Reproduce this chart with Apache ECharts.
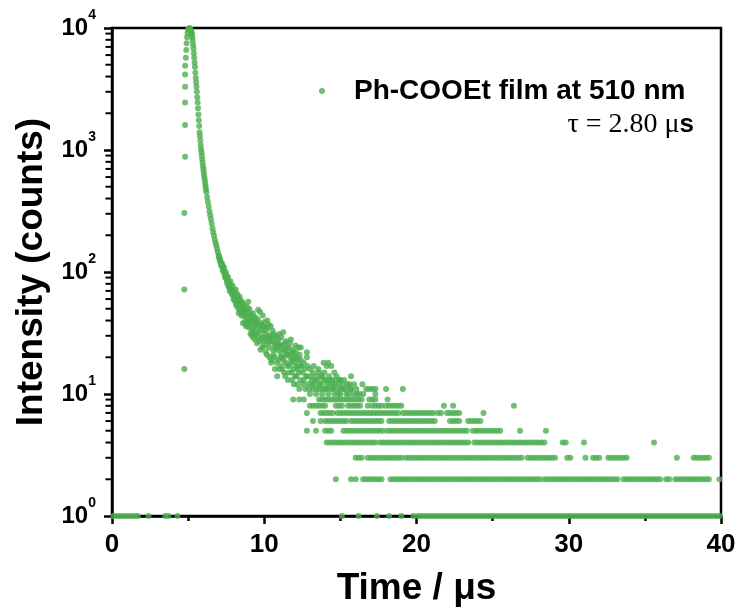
<!DOCTYPE html>
<html>
<head>
<meta charset="utf-8">
<script src="https://cdn.jsdelivr.net/npm/echarts@6/dist/echarts.min.js"></script>
<style>html,body{margin:0;padding:0;background:#fff}#c{width:739px;height:612px}</style>
</head>
<body>
<div id="c"></div>
<script>
// ---------- data ----------
const seriesName = 'Ph-COOEt film at 510 nm';
const xTicks = [0, 10, 20, 30, 40];
const yTicks = [1, 10, 100, 1000, 10000];
const yMinorTicks = [2,3,4,5,6,7,8,9,20,30,40,50,60,70,80,90,200,300,400,500,600,700,800,900,2000,3000,4000,5000,6000,7000,8000,9000];

// rising edge of the pulse
const riseT = [4.75,4.75,4.75,4.8,4.8,4.8,4.8,4.8,4.8,4.85,4.88,4.9,4.93,4.96];
const riseN = [16,72,305,880,1600,2450,3300,4150,4900,5700,6600,7500,8400,9100];

// peak and decay (time in µs, counts)
const decayT = [5.00,5.05,5.10,5.15,
  5.200,5.225,5.250,5.275,5.300,5.325,5.350,5.375,5.400,5.425,5.450,5.475,5.500,5.525,5.550,5.575,
  5.600,5.625,5.650,5.675,5.700,5.725,5.750,5.775,5.800,5.825,5.850,5.875,5.900,5.925,5.950,5.975,
  6.000,6.025,6.050,6.075,6.100,6.125,6.150,6.175,6.200,
  6.25,6.30,6.35,6.40,6.45,6.50,6.55,6.60,6.65,6.70,6.75,6.80,6.85,6.90,6.95,7.00,
  7.05,7.10,7.15,7.20,7.25,7.30,7.35,7.40,7.45,7.50,7.55,7.60,7.65,7.70,7.75,7.80,7.85,7.90,7.95,8.00,
  8.05,8.10,8.15,8.20,8.25,8.30,8.35,8.40,8.45,8.50,8.55,8.60,8.65,8.70,8.75,8.80,8.85,8.90,8.95,9.00,
  9.05,9.10,9.15,9.20,9.25,9.30,9.35,9.40,9.45,9.50,9.55,9.60,9.65,9.70,9.75,9.80,9.85,9.90,9.95,10.00,
  10.05,10.10,10.15,10.20,10.25,10.30,10.35,10.40,10.45,10.50,10.55,10.60,10.65,10.70,10.75,10.80,10.85,10.90,10.95,11.00,
  11.05,11.10,11.15,11.20,11.25,11.30,11.35,11.40,11.45,11.50,11.55,11.60,11.65,11.70,11.75,11.80,11.85,11.90,11.95,12.00,
  12.05,12.10,12.15,12.20,12.25,12.30,12.35,12.40];
const decayN = [9700,9900,10000,9800,
  9400,9200,8900,8400,7900,7300,6800,6200,5700,5200,4800,4300,3900,3600,3300,3000,
  2700,2450,2200,1950,1750,1570,1400,1300,1200,1100,1020,960,900,840,790,740,
  700,660,620,590,560,530,500,475,450,
  410,375,345,315,292,270,250,228,212,198,185,174,165,155,146,138,
  130,128,118,115,112,102,108,96,92,95,84,88,76,82,73,78,68,72,64,70,
  58,66,55,62,57,50,60,48,55,44,52,38,50,43,47,36,52,41,57,35,
  44,31,40,30,46,34,38,28,42,32,36,49,27,33,23,38,29,44,25,31,
  35,22,28,40,26,37,20,30,18,27,33,21,25,16,29,23,14,26,19,31,
  22,17,25,20,32,15,23,18,27,21,13,24,17,20,28,15,19,22,12,18,
  25,14,20,16,24,11,17,19];

// second, interleaved set of channels in the noisy part of the decay
const decay2T = [7.025,7.075,7.125,7.175,7.225,7.275,7.325,7.375,7.425,7.475,7.525,7.575,7.625,7.675,7.725,7.775,7.825,7.875,7.925,7.975,
  8.025,8.075,8.125,8.175,8.225,8.275,8.325,8.375,8.425,8.475,8.525,8.575,8.625,8.675,8.725,8.775,8.825,8.875,8.925,8.975,
  9.025,9.075,9.125,9.175,9.225,9.275,9.325,9.375,9.425,9.475,9.525,9.575,9.625,9.675,9.725,9.775,9.825,9.875,9.925,9.975,
  10.025,10.075,10.125,10.175,10.225,10.275,10.325,10.375,10.425,10.475,10.525,10.575,10.625,10.675,10.725,10.775,10.825,10.875,10.925,10.975,
  11.025,11.075,11.125,11.175,11.225,11.275,11.325,11.375,11.425,11.475,11.525,11.575,11.625,11.675,11.725,11.775,11.825,11.875,11.925,11.975,
  12.025,12.075,12.125,12.175,12.225,12.275,12.325,12.375];
const decay2N = [134,125,121,112,118,104,110,99,90,100,88,80,91,79,70,84,74,66,77,60,
  68,61,72,53,66,59,46,63,52,58,47,56,45,54,39,49,44,37,48,40,
  50,37,45,33,41,29,43,36,31,39,26,41,30,37,47,28,34,24,36,27,
  39,29,33,21,35,24,30,27,36,19,29,23,31,20,26,30,18,24,28,16,
  25,20,29,16,23,19,26,14,21,24,17,22,15,26,18,21,13,23,16,20,
  14,22,17,12,19,15,21,13];

// noisy cloud of higher counts after 12 µs
const cloudT = [12.4,12.5,12.6,12.6,12.7,12.8,12.8,12.8,12.9,13.0,13.0,13.1,13.2,13.2,13.3,13.4,13.4,13.5,13.6,13.6,
  13.7,13.8,13.8,13.9,13.9,14.0,14.1,14.1,14.2,14.2,14.3,14.4,14.4,14.5,14.6,14.6,14.7,14.8,14.9,15.0,
  15.0,15.2,15.4,15.6,15.7,15.7,15.9,16.1,16.5,16.7,16.9,17.1,17.3,17.3,18.0,19.1,
  12.45,12.55,12.65,12.75,12.85,12.95,13.05,13.15,13.25,13.35,13.45,13.55,13.65,13.75,13.85,13.95,14.05,14.15,14.25,14.35,
  14.45,14.55,14.65,14.75,14.85,14.95,15.05,15.15,15.25,15.35,15.45,15.55,15.65,15.85,16.05,16.25,16.45];
const cloudN = [24,15,13,18,11,20,14,22,12,16,10,13,15,11,12,14,10,13,15,11,
  12,10,14,13,18,11,12,17,18,10,13,17,11,12,15,10,13,11,12,10,
  13,11,10,12,11,14,12,10,10,11,11,11,11,10,11,11,
  17,12,16,14,17,11,14,12,17,13,11,16,12,14,11,15,13,11,14,12,
  13,11,12,14,10,13,11,12,13,11,12,10,11,10,11,10,12];

// integer count levels at long times: times at which each level is recorded
const levelCounts = [1, 2, 3, 4, 5, 6, 7, 8, 9];
const lvl1T = [0.1,0.3,0.5,0.7,0.9,1.1,1.3,1.5,1.7,2.4,3.5,3.7,4.3,15.1,16.2,17.4,18.2,19.0,19.8,
  20.1,20.3,20.5,20.7,20.9,21.1,21.3,21.5,21.7,21.9,22.1,22.3,22.5,22.7,22.9,23.1,23.3,23.5,23.7,23.9,
  24.1,24.3,24.5,24.7,24.9,25.1,25.3,25.5,25.7,25.9,26.1,26.3,26.5,26.7,26.9,27.1,27.3,27.5,27.7,27.9,
  28.1,28.3,28.5,28.7,28.9,29.1,29.3,29.5,29.7,29.9,30.1,30.3,30.5,30.7,30.9,31.1,31.3,31.5,31.7,31.9,
  32.1,32.3,32.5,32.7,32.9,33.1,33.3,33.5,33.7,33.9,34.1,34.3,34.5,34.7,34.9,35.1,35.3,35.5,35.7,35.9,
  36.1,36.3,36.5,36.7,36.9,37.1,37.3,37.5,37.7,37.9,38.1,38.3,38.5,38.7,38.9,39.1,39.3,39.5,39.7,39.9];
const lvl2T = [14.7,15.7,16.0,16.5,16.7,16.9,17.1,17.3,17.5,17.7,18.3,18.5,18.7,18.9,19.1,19.3,19.5,19.7,19.9,
  20.1,20.3,20.5,20.7,20.9,21.1,21.3,21.5,21.7,21.9,22.1,22.3,22.5,22.7,22.9,23.1,23.3,23.5,23.7,23.9,
  24.1,24.3,24.5,24.7,24.9,25.1,25.3,25.5,25.7,25.9,26.1,26.3,26.5,26.7,26.9,27.1,27.3,27.5,27.7,27.9,28.1,
  28.4,28.6,28.8,29.0,29.2,29.4,29.6,29.8,30.0,30.2,30.4,30.6,30.8,31.0,31.2,31.4,31.6,31.8,32.0,32.2,32.4,
  32.6,32.8,33.0,33.2,33.6,33.8,34.0,34.2,34.4,34.6,34.8,35.0,35.2,35.4,35.6,35.8,36.0,36.4,36.6,
  37.0,37.2,37.4,37.6,37.8,38.0,38.2,38.4,38.6,38.8,39.0,39.2,39.9];
const lvl3T = [16.0,16.2,16.4,16.8,17.0,17.2,17.4,17.6,17.8,18.0,18.2,18.4,18.6,18.8,19.0,19.3,19.5,19.7,19.9,
  20.1,20.3,20.5,20.7,20.9,21.1,21.3,21.5,21.7,21.9,22.1,22.3,22.5,22.7,22.9,23.1,23.3,23.5,23.7,23.9,
  24.1,24.3,24.5,24.7,24.9,25.1,25.3,25.5,25.7,25.9,26.1,26.3,26.5,26.7,26.9,27.3,27.5,27.7,27.9,28.1,
  28.3,28.5,28.7,28.9,29.1,29.9,30.1,31.1,31.6,31.8,32.0,32.6,32.8,33.0,33.2,33.4,33.6,33.8,37.1,
  38.2,38.4,38.6,38.8,39.0,39.2];
const lvl4T = [14.1,14.3,14.5,14.7,14.9,15.1,15.3,15.5,15.7,15.9,16.1,16.3,16.5,16.7,16.9,17.1,17.3,17.6,17.8,
  18.0,18.2,18.4,18.6,18.8,19.0,19.2,19.4,19.6,19.8,20.0,20.2,20.4,20.6,20.8,21.0,21.2,21.4,21.6,21.8,
  22.0,22.2,22.4,22.6,22.8,23.0,23.2,23.4,23.8,24.0,24.2,24.4,24.6,24.8,25.0,25.2,25.4,25.6,25.8,26.0,
  26.2,26.4,26.6,26.8,27.0,27.2,27.4,27.6,27.8,28.0,28.2,28.4,29.6,29.8,31.0,35.6];
const lvl5T = [12.8,13.4,14.0,14.2,14.4,15.2,15.4,15.6,15.8,16.0,16.2,16.4,16.6,16.8,17.0,17.2,17.4,17.6,17.8,
  18.1,18.3,18.5,18.7,18.9,19.1,19.3,19.5,19.7,19.9,20.1,20.3,20.5,20.7,20.9,21.1,21.3,21.5,21.7,21.9,
  22.1,22.3,22.5,22.7,22.9,23.1,23.3,23.7,23.9,24.1,24.3,24.5,24.7,24.9,25.1,25.3,25.5,26.8,28.5];
const lvl6T = [13.2,13.7,14.0,14.2,14.4,14.6,14.8,15.0,15.2,15.4,15.7,15.9,16.1,16.3,16.5,16.7,16.9,17.1,17.3,
  17.5,17.7,18.2,18.4,18.6,18.8,19.0,19.2,19.4,19.6,19.8,20.0,20.2,20.4,20.6,20.8,21.0,21.2,
  22.2,22.4,22.6,22.8,23.4,23.6,23.8,24.0,24.2];
const lvl7T = [12.8,13.7,13.9,14.1,14.3,14.5,14.8,15.0,15.2,15.4,15.6,15.8,16.0,16.2,16.4,16.6,16.8,17.0,
  17.2,17.4,17.6,17.8,18.0,18.2,18.4,18.6,18.8,19.1,19.3,19.5,19.7,19.9,20.1,20.3,20.5,20.7,20.9,21.1,
  21.4,21.6,22.0,22.2,22.4,22.6,22.8,24.4];
const lvl8T = [13.0,13.2,13.4,13.6,13.8,14.0,14.7,14.9,15.1,15.5,15.7,15.9,16.1,16.3,16.8,17.1,17.3,17.5,17.7,
  18.0,18.2,18.4,18.6,18.8,19.0,21.8,22.4,26.4];
const lvl9T = [11.9,12.3,12.6,13.6,13.8,14.0,14.2,14.4,14.6,14.8,15.0,15.2,15.4,15.6,15.8,16.0,16.2,16.4,
  16.9,17.1,17.3,18.1];
const levelTimes = [lvl1T, lvl2T, lvl3T, lvl4T, lvl5T, lvl6T, lvl7T, lvl8T, lvl9T];

// ---------- build ----------
const points = [];
riseT.forEach((t, i) => points.push([t, riseN[i]]));
decayT.forEach((t, i) => points.push([t, decayN[i]]));
decay2T.forEach((t, i) => points.push([t, decay2N[i]]));
cloudT.forEach((t, i) => points.push([t, cloudN[i]]));
levelTimes.forEach((arr, k) => arr.forEach(t => points.push([t, levelCounts[k]])));

const SANS = '"Liberation Sans", Arial, Helvetica, sans-serif';
const SERIF = '"Liberation Serif", "Times New Roman", serif';
const GREEN = '#4caf50';

const chart = echarts.init(document.getElementById('c'), null, {renderer: 'canvas'});
chart.setOption({
  animation: false,
  backgroundColor: '#fff',
  grid: {left: 112, right: 18, top: 28, bottom: 95, show: true, borderColor: '#000', borderWidth: 2.5, backgroundColor: 'transparent'},
  legend: {
    data: [seriesName], left: 314, top: 72, icon: 'circle', itemWidth: 6, itemHeight: 6,
    selectedMode: false,
    textStyle: {fontFamily: SANS, fontSize: 28, fontWeight: 'bold', color: '#000', padding: [0, 0, 0, 24]}
  },
  graphic: [{
    type: 'text', right: 45, top: 111,
    style: {
      text: '{t|τ = 2.80 μ}{s|s}',
      rich: {
        t: {fontFamily: SERIF, fontSize: 28, fill: '#000'},
        s: {fontFamily: SANS, fontSize: 26, fontWeight: 'bold', fill: '#000'}
      }
    }
  }],
  xAxis: {
    type: 'value', min: xTicks[0], max: xTicks[xTicks.length - 1], interval: 10,
    name: 'Time / μs', nameLocation: 'middle', nameGap: 54,
    nameTextStyle: {fontFamily: SANS, fontSize: 37, fontWeight: 'bold', color: '#000'},
    axisLine: {lineStyle: {color: '#000', width: 2.5}},
    axisTick: {inside: false, length: 8, lineStyle: {color: '#000', width: 2.5}},
    minorTick: {show: true, splitNumber: 2, length: 5, lineStyle: {color: '#000', width: 2.5}},
    axisLabel: {fontFamily: SANS, fontSize: 26, fontWeight: 'bold', color: '#000', margin: 16},
    splitLine: {show: false}
  },
  yAxis: {
    type: 'log', logBase: 10, min: yTicks[0], max: yTicks[yTicks.length - 1],
    name: 'Intensity (counts)', nameLocation: 'middle', nameGap: 58,
    nameTextStyle: {fontFamily: SANS, fontSize: 37, fontWeight: 'bold', color: '#000'},
    axisLine: {lineStyle: {color: '#000', width: 2.5}},
    axisTick: {inside: false, length: 8, lineStyle: {color: '#000', width: 2.5}},
    axisLabel: {
      margin: 16,
      formatter: v => '{b|10}{s|' + Math.round(Math.log10(v)) + '}',
      rich: {
        b: {fontFamily: SANS, fontSize: 24, fontWeight: 'bold', color: '#000', lineHeight: 40},
        s: {fontFamily: SANS, fontSize: 14, fontWeight: 'bold', color: '#000', verticalAlign: 'top', lineHeight: 14}
      }
    },
    splitLine: {show: false},
    minorSplitLine: {show: false}
  },
  series: [{
    name: seriesName, type: 'scatter', clip: false,
    symbol: 'circle', symbolSize: 6,
    itemStyle: {color: GREEN},
    data: points, z: 3
  }, {
    // minor ticks 2..9 of every decade on the log y axis, positioned through the axis scale
    type: 'custom', clip: false,
    data: yMinorTicks.map(v => [xTicks[0], v]),
    renderItem: (params, api) => {
      const p = api.coord([api.value(0), api.value(1)]);
      return {type: 'line', shape: {x1: p[0] - 6.5, y1: p[1], x2: p[0], y2: p[1]}, style: {stroke: '#000', lineWidth: 2}};
    }
  }]
});
</script>
</body>
</html>
